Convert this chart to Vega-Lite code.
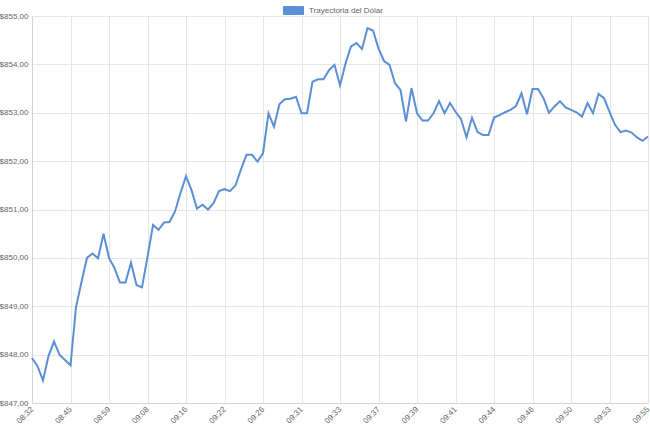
{
  "$schema": "https://vega.github.io/schema/vega-lite/v6.json",
  "width": 616,
  "height": 387,
  "autosize": {"type": "none"},
  "padding": {"left": 32, "top": 16, "right": 2, "bottom": 27},
  "background": "white",
  "config": {"view": {"stroke": null}, "font": "Liberation Sans"},
  "data": {"values": [
    {"i":0,"v":847.93},{"i":1,"v":847.76},{"i":2,"v":847.47},{"i":3,"v":847.97},{"i":4,"v":848.27},
    {"i":5,"v":848.0},{"i":6,"v":847.89},{"i":7,"v":847.78},{"i":8,"v":848.98},{"i":9,"v":849.5},
    {"i":10,"v":850.0},{"i":11,"v":850.09},{"i":12,"v":849.99},{"i":13,"v":850.5},{"i":14,"v":850.0},
    {"i":15,"v":849.79},{"i":16,"v":849.49},{"i":17,"v":849.49},{"i":18,"v":849.9},{"i":19,"v":849.44},
    {"i":20,"v":849.39},{"i":21,"v":850.02},{"i":22,"v":850.68},{"i":23,"v":850.58},{"i":24,"v":850.73},
    {"i":25,"v":850.74},{"i":26,"v":850.96},{"i":27,"v":851.34},{"i":28,"v":851.69},{"i":29,"v":851.4},
    {"i":30,"v":851.02},{"i":31,"v":851.1},{"i":32,"v":851.0},{"i":33,"v":851.13},{"i":34,"v":851.38},
    {"i":35,"v":851.42},{"i":36,"v":851.38},{"i":37,"v":851.5},{"i":38,"v":851.83},{"i":39,"v":852.13},
    {"i":40,"v":852.13},{"i":41,"v":851.99},{"i":42,"v":852.16},{"i":43,"v":852.99},{"i":44,"v":852.71},
    {"i":45,"v":853.18},{"i":46,"v":853.28},{"i":47,"v":853.29},{"i":48,"v":853.33},{"i":49,"v":852.99},
    {"i":50,"v":852.99},{"i":51,"v":853.64},{"i":52,"v":853.69},{"i":53,"v":853.69},{"i":54,"v":853.88},
    {"i":55,"v":853.99},{"i":56,"v":853.57},{"i":57,"v":854.02},{"i":58,"v":854.37},{"i":59,"v":854.44},
    {"i":60,"v":854.32},{"i":61,"v":854.75},{"i":62,"v":854.7},{"i":63,"v":854.33},{"i":64,"v":854.07},
    {"i":65,"v":853.99},{"i":66,"v":853.61},{"i":67,"v":853.47},{"i":68,"v":852.82},{"i":69,"v":853.51},
    {"i":70,"v":852.99},{"i":71,"v":852.84},{"i":72,"v":852.84},{"i":73,"v":852.99},{"i":74,"v":853.24},
    {"i":75,"v":852.99},{"i":76,"v":853.2},{"i":77,"v":853.02},{"i":78,"v":852.87},{"i":79,"v":852.49},
    {"i":80,"v":852.9},{"i":81,"v":852.6},{"i":82,"v":852.54},{"i":83,"v":852.54},{"i":84,"v":852.9},
    {"i":85,"v":852.95},{"i":86,"v":853.01},{"i":87,"v":853.06},{"i":88,"v":853.14},{"i":89,"v":853.4},
    {"i":90,"v":852.97},{"i":91,"v":853.49},{"i":92,"v":853.49},{"i":93,"v":853.3},{"i":94,"v":853.0},
    {"i":95,"v":853.13},{"i":96,"v":853.24},{"i":97,"v":853.11},{"i":98,"v":853.06},{"i":99,"v":853.01},
    {"i":100,"v":852.92},{"i":101,"v":853.2},{"i":102,"v":852.99},{"i":103,"v":853.39},{"i":104,"v":853.3},
    {"i":105,"v":853.02},{"i":106,"v":852.75},{"i":107,"v":852.6},{"i":108,"v":852.63},{"i":109,"v":852.59},
    {"i":110,"v":852.49},{"i":111,"v":852.42},{"i":112,"v":852.51}
  ]},
  "mark": {"type": "line", "strokeWidth": 2, "interpolate": "linear"},
  "encoding": {
    "x": {
      "field": "i", "type": "quantitative",
      "scale": {"domain": [0, 112], "nice": false, "zero": false},
      "axis": {
        "title": null,
        "values": [0,7,14,21,28,35,42,49,56,63,70,77,84,91,98,105,112],
        "labelExpr": "['08:32','08:45','08:59','09:08','09:16','09:22','09:26','09:31','09:33','09:37','09:39','09:41','09:44','09:46','09:50','09:53','09:55'][round(datum.value/7)]",
        "labelAngle": -45, "labelAlign": "right", "labelBaseline": "middle",
        "labelFontSize": 8, "labelColor": "#666666", "labelPadding": 5,
        "ticks": false, "grid": true, "gridColor": "#e6e6e6",
        "domain": true, "domainColor": "#d4d4d4", "labelOverlap": false, "labelFlush": false
      }
    },
    "y": {
      "field": "v", "type": "quantitative",
      "scale": {"domain": [847, 855], "nice": false, "zero": false},
      "axis": {
        "title": null,
        "values": [847,848,849,850,851,852,853,854,855],
        "labelExpr": "'$' + replace(format(datum.value, '.2f'), '.', ',')",
        "labelFontSize": 8, "labelColor": "#666666", "labelPadding": 4,
        "ticks": false, "grid": true, "gridColor": "#e6e6e6",
        "domain": true, "domainColor": "#d4d4d4", "labelOverlap": false
      }
    },
    "color": {
      "datum": "Trayectoria del Dólar", "type": "nominal",
      "scale": {"range": ["#5b8fd6"]},
      "legend": {
        "title": null, "orient": "none", "legendX": 251, "legendY": -16,
        "padding": 0,
        "symbolType": "M-1,-0.4H1V0.4H-1Z", "symbolSize": 400,
        "symbolFillColor": "#5b8fd6", "symbolStrokeColor": "#5b8fd6", "symbolStrokeWidth": 1,
        "labelFontSize": 8, "labelColor": "#666666", "labelOffset": 5
      }
    }
  }
}
